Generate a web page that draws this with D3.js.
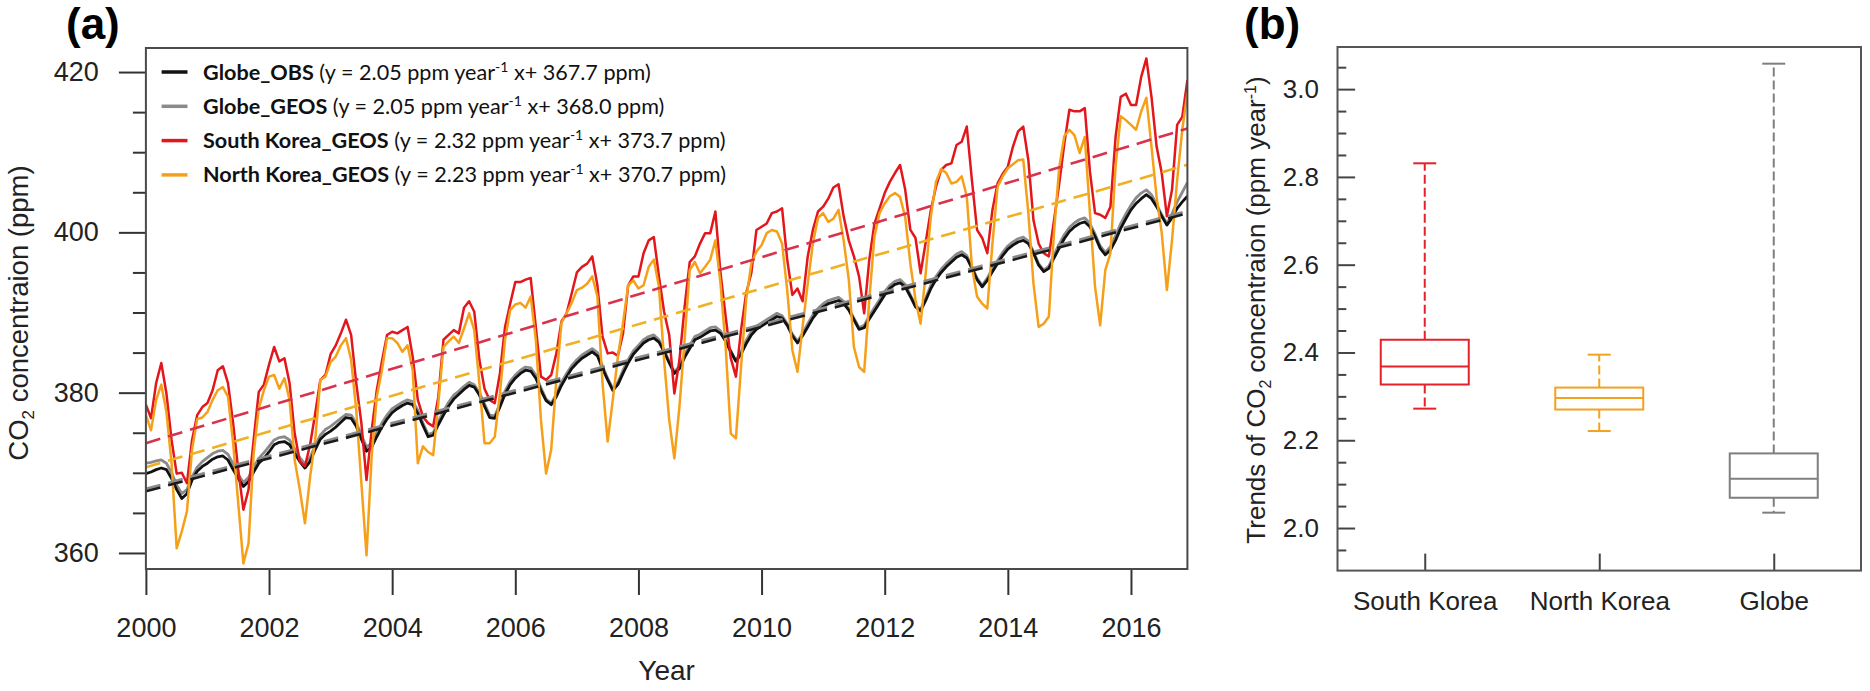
<!DOCTYPE html>
<html><head><meta charset="utf-8">
<script src="https://cdn.jsdelivr.net/npm/d3@7"></script>
<style>
html,body{margin:0;padding:0;background:#fff;}
svg{display:block;}
text{white-space:pre;}
</style></head>
<body>
<svg id="chart" width="1870" height="691"></svg>
<script>
// ---------------- DATA ----------------
const startYear = 2000;
const xTickYears = [2000, 2002, 2004, 2006, 2008, 2010, 2012, 2014, 2016];
const yTicksA = [360, 380, 400, 420];
const yMinorA = [365, 370, 375, 385, 390, 395, 405, 410, 415];

// monthly values Jan 2000 .. Dec 2016 (one row per year)
const globeObs = [
 369.9,370.1,370.4,370.6,370.4,369.3,367.9,366.8,367.4,369.1,370.2,370.8,
 371.2,371.7,372.0,372.1,371.6,370.4,369.3,368.3,368.9,370.1,371.2,371.8,
 372.6,373.5,373.8,373.9,373.5,372.4,371.4,370.6,371.4,372.9,374.2,374.8,
 375.2,375.7,376.3,376.9,376.8,375.8,374.2,372.7,373.2,374.5,375.7,376.7,
 377.5,378.0,378.4,378.7,378.5,377.4,375.9,374.5,374.7,376.0,377.2,378.3,
 379.2,379.8,380.4,380.9,380.7,379.7,378.3,376.9,376.8,378.2,379.8,381.0,
 381.8,382.4,382.8,382.7,381.8,380.3,379.0,378.5,379.5,380.9,382.0,383.0,
 383.7,384.3,384.7,385.1,384.6,383.0,381.6,380.3,381.0,382.4,383.7,384.8,
 385.5,386.2,386.6,386.8,386.3,385.1,383.7,382.4,383.0,384.4,385.5,386.6,
 386.9,387.3,387.7,387.8,387.4,386.4,385.1,383.9,384.8,386.1,387.2,387.9,
 388.3,388.7,389.1,389.5,389.3,388.4,387.1,386.2,387.1,388.2,389.3,390.1,
 390.7,391.1,391.3,391.5,391.1,390.3,389.1,387.9,388.1,389.2,390.2,391.2,
 392.2,393.0,393.5,393.7,393.2,392.0,390.7,390.2,391.5,393.0,394.1,395.0,
 395.7,396.3,396.9,397.2,396.8,395.5,394.1,393.2,394.0,395.1,396.1,397.1,
 397.9,398.4,398.8,399.0,398.6,397.4,395.9,395.1,395.5,396.8,398.0,399.2,
 400.1,400.7,401.1,401.3,400.7,399.5,398.0,397.2,397.8,399.0,400.5,401.7,
 402.8,403.6,404.2,404.7,404.2,403.2,402.0,400.9,401.8,403.0,403.8,404.5
];
const globeGeos = [
 371.2,371.3,371.5,371.6,371.2,370.0,368.5,367.4,367.9,369.5,370.7,371.4,
 371.9,372.4,372.7,372.8,372.3,371.1,369.8,368.8,369.4,370.7,371.8,372.5,
 373.3,374.1,374.4,374.5,374.1,373.0,371.9,371.1,371.9,373.4,374.7,375.4,
 375.8,376.3,376.8,377.3,377.2,376.2,374.7,373.2,373.7,375.0,376.2,377.2,
 378.0,378.4,378.8,379.1,378.9,377.8,376.2,374.8,375.0,376.4,377.7,378.8,
 379.7,380.2,380.8,381.3,381.0,380.0,378.6,377.2,377.1,378.6,380.2,381.4,
 382.2,382.8,383.2,383.1,382.2,380.6,379.2,378.7,379.8,381.3,382.4,383.4,
 384.1,384.7,385.1,385.5,385.0,383.3,381.8,380.5,381.3,382.8,384.1,385.2,
 385.9,386.6,387.0,387.2,386.6,385.3,383.9,382.6,383.3,384.8,385.9,387.0,
 387.3,387.7,388.1,388.2,387.7,386.6,385.2,384.0,385.1,386.5,387.6,388.3,
 388.7,389.1,389.5,389.9,389.6,388.6,387.3,386.4,387.4,388.6,389.7,390.5,
 391.1,391.5,391.7,391.9,391.4,390.5,389.3,388.1,388.4,389.6,390.6,391.6,
 392.6,393.4,393.9,394.1,393.5,392.2,390.9,390.4,391.8,393.4,394.5,395.4,
 396.1,396.7,397.3,397.6,397.1,395.7,394.3,393.4,394.3,395.5,396.5,397.5,
 398.3,398.8,399.2,399.4,398.9,397.6,396.1,395.3,395.8,397.2,398.5,399.7,
 400.6,401.2,401.6,401.8,401.1,399.8,398.3,397.5,398.2,399.6,401.1,402.3,
 403.4,404.3,404.9,405.3,404.7,403.5,402.2,401.1,402.3,403.8,405.0,406.2
];
const southKoreaGeos = [
 378.5,376.8,381.2,383.7,379.9,374.1,369.9,370.0,368.7,374.1,377.2,378.2,
 378.7,380.3,382.8,383.3,381.2,376.2,370.4,365.4,367.9,374.1,380.1,381.0,
 383.5,385.7,383.9,384.3,381.2,374.9,371.4,370.8,373.5,377.4,381.6,382.2,
 384.8,385.9,387.4,389.1,387.2,381.2,376.2,369.1,375.3,380.3,383.9,387.2,
 387.6,387.4,387.8,388.2,384.5,379.1,377.0,376.2,375.8,379.5,386.6,387.2,
 387.8,387.4,390.6,391.4,390.1,384.1,380.5,379.1,378.7,382.4,388.2,391.1,
 393.8,393.8,394.1,394.3,388.2,382.0,381.6,382.2,384.9,388.9,389.9,392.4,
 395.0,395.7,396.1,397.0,393.4,387.0,384.9,385.0,384.6,387.4,393.4,394.5,
 394.5,397.4,399.0,399.4,394.5,390.1,387.2,379.9,384.1,390.7,396.3,397.0,
 398.6,399.9,399.9,402.6,394.9,389.5,384.3,382.0,387.8,392.4,394.9,400.3,
 400.7,401.1,402.4,402.6,403.0,396.6,392.2,393.0,391.4,397.0,400.3,402.6,
 403.2,404.2,405.6,406.0,402.0,399.0,397.0,394.5,389.9,396.6,401.1,403.0,
 404.9,406.3,407.4,408.4,405.3,400.3,399.3,394.9,398.8,402.8,405.7,407.8,
 408.4,408.6,410.9,411.3,413.2,406.5,400.3,399.3,397.4,402.8,406.1,407.3,
 408.2,410.7,412.6,413.2,409.0,401.5,398.6,397.4,397.0,401.5,406.0,411.0,
 415.3,415.1,415.1,415.5,407.6,402.4,402.2,401.8,403.2,411.9,416.9,417.3,
 415.9,415.9,419.4,421.7,416.9,410.7,407.4,402.0,405.3,413.4,414.4,419.0
];
const northKoreaGeos = [
 377.2,375.3,379.1,381.0,377.6,371.2,360.6,362.7,365.2,372.9,376.7,376.9,
 377.6,379.1,380.3,380.7,379.5,373.7,366.2,358.7,361.2,372.4,378.0,380.3,
 382.0,382.2,380.5,381.8,379.1,371.6,367.9,363.7,369.5,374.1,381.6,382.0,
 383.8,384.5,385.9,386.8,384.1,377.8,368.7,359.7,372.0,379.5,382.8,386.8,
 386.8,386.2,385.1,385.9,382.8,371.2,373.3,372.6,372.2,378.7,385.7,386.4,
 387.0,386.2,388.0,389.9,387.8,381.2,373.7,373.7,374.5,379.9,386.6,390.3,
 391.0,391.2,390.6,392.0,386.6,376.6,369.9,372.9,381.6,388.7,389.9,391.2,
 392.8,393.1,393.6,394.5,392.0,381.2,373.9,379.1,384.5,388.7,393.4,394.0,
 393.0,393.4,395.7,396.6,393.2,384.1,376.6,371.8,378.3,386.6,395.3,396.3,
 394.9,395.7,396.6,399.0,393.6,385.7,374.9,374.3,383.2,391.6,396.1,397.6,
 398.4,399.9,400.3,400.1,398.6,392.8,385.3,382.6,388.2,393.6,398.6,401.8,
 402.4,401.3,401.7,402.8,399.0,394.1,385.7,383.2,382.6,391.6,399.5,402.4,
 403.6,404.5,404.9,404.4,401.9,396.1,391.6,388.6,394.9,402.0,406.3,407.9,
 407.4,406.1,406.3,407.0,404.5,395.7,392.0,391.1,390.5,398.6,405.7,407.0,
 408.0,408.5,409.0,409.1,402.4,393.6,388.2,388.6,389.5,400.0,408.0,412.0,
 412.8,412.1,409.9,411.9,402.4,393.2,388.4,395.3,397.4,408.2,414.5,414.0,
 413.4,412.8,415.1,416.8,410.7,404.4,399.9,392.8,399.0,406.5,412.8,417.4
];

const seriesNames = ["Globe_OBS", "Globe_GEOS", "South Korea_GEOS", "North Korea_GEOS"];
const trendSlopes = [2.05, 2.05, 2.32, 2.23];
const trendIntercepts = [367.7, 368.0, 373.7, 370.7];

// panel (b) box statistics
const boxCategories = ["South Korea", "North Korea", "Globe"];
const boxMin    = [2.272, 2.221, 2.035];
const boxQ1     = [2.327, 2.270, 2.069];
const boxMedian = [2.368, 2.296, 2.112];
const boxQ3     = [2.429, 2.320, 2.170];
const boxMax    = [2.831, 2.395, 3.058];
const yTicksB = [2.0, 2.2, 2.4, 2.6, 2.8, 3.0];
const yMinorB = [1.95, 2.05, 2.1, 2.15, 2.25, 2.3, 2.35, 2.45, 2.5, 2.55, 2.65, 2.7, 2.75, 2.85, 2.9, 2.95, 3.05];

// ---------------- STYLE ----------------
const lineColors  = ["#111111", "#8a8a8a", "#e3161c", "#f6a01a"];
const trendColors = ["#1a1a1a", "#8a8a8a", "#d8324c", "#efb022"];
const boxColors   = ["#e3222a", "#f3a21f", "#7f7f7f"];
const FONT = "'Liberation Sans', Arial, Helvetica, sans-serif";

const svg = d3.select("#chart");
svg.append("rect").attr("width", 1870).attr("height", 691).attr("fill", "#fff");

// ================ PANEL (a) ================
const A = {left: 145.9, right: 1187.4, top: 48, bottom: 569};
const xA = d3.scaleLinear().domain([startYear, startYear + 16 + 11/12]).range([A.left, A.right]);
const yA = d3.scaleLinear().domain([358, 423]).range([A.bottom, A.top]);

const gA = svg.append("g");
gA.append("clipPath").attr("id", "clipA").append("rect")
  .attr("x", A.left).attr("y", A.top).attr("width", A.right - A.left).attr("height", A.bottom - A.top);

const allSeries = [globeObs, globeGeos, southKoreaGeos, northKoreaGeos];
const lineGen = d3.line().x((d, i) => xA(startYear + i / 12)).y(d => yA(d));
const plotG = gA.append("g").attr("clip-path", "url(#clipA)");

[1, 0, 2, 3].forEach(k => {
  plotG.append("path").datum(allSeries[k])
    .attr("d", lineGen).attr("fill", "none")
    .attr("stroke", lineColors[k]).attr("stroke-width", k < 2 ? 2.8 : 2.5)
    .attr("stroke-linejoin", "round");
});
// trend lines
const tEnd = startYear + 16 + 11/12;
[1, 0, 2, 3].forEach(k => {
  const pts = [startYear, tEnd].map(t => [t, trendIntercepts[k] + trendSlopes[k] * (t - startYear)]);
  plotG.append("path").datum(pts)
    .attr("d", d3.line().x(d => xA(d[0])).y(d => yA(d[1])))
    .attr("fill", "none").attr("stroke", trendColors[k]).attr("stroke-width", 2.6)
    .attr("stroke-dasharray", "15,8");
});

// axes
const axXA = gA.append("g").attr("transform", `translate(0,${A.bottom})`)
  .call(d3.axisBottom(xA).tickValues(xTickYears).tickFormat(d3.format("d")).tickSize(26).tickPadding(23));
const axYA = gA.append("g").attr("transform", `translate(${A.left},0)`)
  .call(d3.axisLeft(yA).tickValues(yTicksA).tickFormat(d3.format("d")).tickSize(27).tickPadding(20));
const axYAm = gA.append("g").attr("transform", `translate(${A.left},0)`)
  .call(d3.axisLeft(yA).tickValues(yMinorA).tickFormat("").tickSize(13));
[axXA, axYA, axYAm].forEach(a => {
  a.select(".domain").remove();
  a.selectAll(".tick line").attr("stroke", "#333").attr("stroke-width", 2);
  a.selectAll("text").attr("fill", "#222").style("font-family", FONT).style("font-size", "27px");
});
gA.append("rect").attr("x", A.left).attr("y", A.top).attr("width", A.right - A.left).attr("height", A.bottom - A.top)
  .attr("fill", "none").attr("stroke", "#4a4a4a").attr("stroke-width", 2);

// axis titles
gA.append("text").attr("x", (A.left + A.right) / 2).attr("y", 680).attr("text-anchor", "middle")
  .style("font-family", FONT).style("font-size", "28px").attr("fill", "#222").text("Year");
const ylabA = gA.append("text").attr("transform", "translate(28,313) rotate(-90)").attr("text-anchor", "middle")
  .style("font-family", FONT).style("font-size", "27.5px").attr("fill", "#222");
ylabA.append("tspan").text("CO");
ylabA.append("tspan").attr("dy", 6).style("font-size", "17px").text("2");
ylabA.append("tspan").attr("dy", -6).text(" concentraion (ppm)");

// legend
const legY0 = 72, legDY = 34.3;
seriesNames.forEach((name, k) => {
  const yy = legY0 + k * legDY;
  gA.append("line").attr("x1", 161.6).attr("x2", 187.5).attr("y1", yy).attr("y2", yy)
    .attr("stroke", lineColors[k]).attr("stroke-width", 3.5);
  const t = gA.append("text").attr("x", 203).attr("y", yy + 7.5)
    .style("font-family", "Lato, 'Open Sans', sans-serif").style("font-size", "21.6px").attr("fill", "#111");
  t.append("tspan").style("font-weight", "700").text(name);
  t.append("tspan").text(` (y = ${trendSlopes[k].toFixed(2)} ppm year`);
  t.append("tspan").attr("dy", -8).style("font-size", "14px").text("-1");
  t.append("tspan").attr("dy", 8).text(` x+ ${trendIntercepts[k].toFixed(1)} ppm)`);
});

// panel letter
svg.append("text").attr("x", 66).attr("y", 39).style("font-family", FONT).style("font-weight", "700")
  .style("font-size", "44px").attr("fill", "#000").text("(a)");

// ================ PANEL (b) ================
const B = {left: 1337.5, right: 1861, top: 47, bottom: 570.6};
const xB = d3.scalePoint().domain(boxCategories).range([B.left, B.right]).padding(0.5);
const yB = d3.scaleLinear().domain([1.903, 3.096]).range([B.bottom, B.top]);
const gB = svg.append("g");

const axYB = gB.append("g").attr("transform", `translate(${B.left},0)`)
  .call(d3.axisLeft(yB).tickValues(yTicksB).tickFormat(d3.format(".1f")).tickSize(-17.6).tickPadding(18.5));
const axYBm = gB.append("g").attr("transform", `translate(${B.left},0)`)
  .call(d3.axisLeft(yB).tickValues(yMinorB).tickFormat("").tickSize(-8.8));
const axXB = gB.append("g").attr("transform", `translate(0,${B.bottom})`)
  .call(d3.axisBottom(xB).tickSize(-17).tickPadding(21));
[axYB, axYBm, axXB].forEach(a => {
  a.select(".domain").remove();
  a.selectAll(".tick line").attr("stroke", "#444").attr("stroke-width", 2);
  a.selectAll("text").attr("fill", "#222").style("font-family", FONT).style("font-size", "26px");
});

const boxW = 88, capW = 23;
boxCategories.forEach((c, i) => {
  const cx = xB(c), col = boxColors[i];
  const g = gB.append("g").attr("stroke", col).attr("fill", "none").attr("stroke-width", 2);
  g.append("line").attr("x1", cx).attr("x2", cx).attr("y1", yB(boxQ3[i])).attr("y2", yB(boxMax[i])).attr("stroke-dasharray", "9,4");
  g.append("line").attr("x1", cx).attr("x2", cx).attr("y1", yB(boxQ1[i])).attr("y2", yB(boxMin[i])).attr("stroke-dasharray", "9,4");
  g.append("line").attr("x1", cx - capW / 2).attr("x2", cx + capW / 2).attr("y1", yB(boxMax[i])).attr("y2", yB(boxMax[i]));
  g.append("line").attr("x1", cx - capW / 2).attr("x2", cx + capW / 2).attr("y1", yB(boxMin[i])).attr("y2", yB(boxMin[i]));
  g.append("rect").attr("x", cx - boxW / 2).attr("width", boxW).attr("y", yB(boxQ3[i]))
    .attr("height", yB(boxQ1[i]) - yB(boxQ3[i])).attr("fill", "#fff");
  g.append("line").attr("x1", cx - boxW / 2).attr("x2", cx + boxW / 2).attr("y1", yB(boxMedian[i])).attr("y2", yB(boxMedian[i]));
});

gB.append("rect").attr("x", B.left).attr("y", B.top).attr("width", B.right - B.left).attr("height", B.bottom - B.top)
  .attr("fill", "none").attr("stroke", "#555").attr("stroke-width", 2);

const ylabB = gB.append("text").attr("transform", "translate(1264.5,310) rotate(-90)").attr("text-anchor", "middle")
  .style("font-family", FONT).style("font-size", "26px").attr("fill", "#222");
ylabB.append("tspan").text("Trends of CO");
ylabB.append("tspan").attr("dy", 6).style("font-size", "16px").text("2");
ylabB.append("tspan").attr("dy", -6).text(" concentraion (ppm year");
ylabB.append("tspan").attr("dy", -9).style("font-size", "16px").text("-1");
ylabB.append("tspan").attr("dy", 9).text(")");

svg.append("text").attr("x", 1244).attr("y", 39).style("font-family", FONT).style("font-weight", "700")
  .style("font-size", "44px").attr("fill", "#000").text("(b)");
</script>
</body></html>
